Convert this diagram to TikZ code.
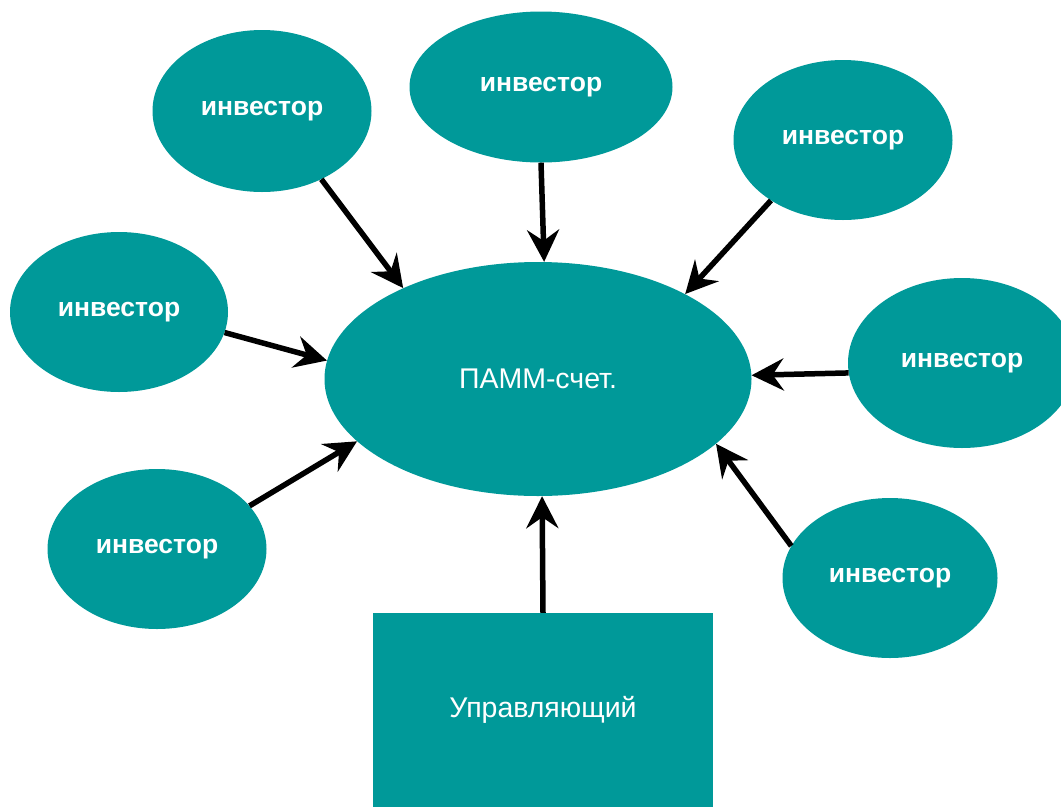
\documentclass[tikz,border=0pt]{standalone}
\usepackage{fontspec}
\setmainfont{Liberation Sans}
\usetikzlibrary{shapes.geometric,arrows.meta}
\definecolor{tealfill}{RGB}{0,153,153}
\tikzset{
  inv/.style={ellipse, fill=tealfill, draw=none, inner sep=0pt, text=white,
    font=\fontsize{26.5}{28}\selectfont\bfseries},
  hub/.style={ellipse, fill=tealfill, draw=none, inner sep=0pt, text=white,
    minimum width=427pt, minimum height=234pt, font=\fontsize{28.5}{30}\selectfont},
  mgrbox/.style={rectangle, fill=tealfill, draw=none, inner sep=0pt, text=white,
    minimum width=340pt, minimum height=194pt, font=\fontsize{28.5}{30}\selectfont},
  link/.style={line width=5.5pt, black,
    -{Stealth[length=32pt,width=32pt,inset=11pt]}}
}
\begin{document}
\begin{tikzpicture}[x=1pt,y=-1pt]
\path[use as bounding box, fill=white] (0,0) rectangle (1061,807);

\node[hub] (pamm) at (538,379) {ПАММ-счет.};
\node[mgrbox] (mgr) at (543,710) {Управляющий};

\node[inv, minimum width=219pt, minimum height=162pt] (i1) at (262,111) {инвестор};
\node[inv, minimum width=263pt, minimum height=151pt] (i2) at (541,87) {инвестор};
\node[inv, minimum width=219pt, minimum height=160pt] (i3) at (843,140) {инвестор};
\node[inv, minimum width=218pt, minimum height=160pt] (i4) at (119,312) {инвестор};
\node[inv, minimum width=228pt, minimum height=170pt] (i5) at (962,363) {инвестор};
\node[inv, minimum width=219pt, minimum height=160pt] (i6) at (157,549) {инвестор};
\node[inv, minimum width=215pt, minimum height=160pt] (i7) at (890,578) {инвестор};

\draw[link] (i1.311) -- (pamm.146.5);
\draw[link] (i2.270) -- (pamm.87.6);
\draw[link] (i3.220) -- (pamm.30.4);
\draw[link] (i4.349) -- (pamm.175.7);
\draw[link] (i5.185.5) -- (pamm.1.6);
\draw[link] (i6.25) -- (pamm.199);
\draw[link] (i7.162.4) -- (pamm.340);
\draw[link] (mgr.north) -- (pamm.272.5);
\end{tikzpicture}
\end{document}
